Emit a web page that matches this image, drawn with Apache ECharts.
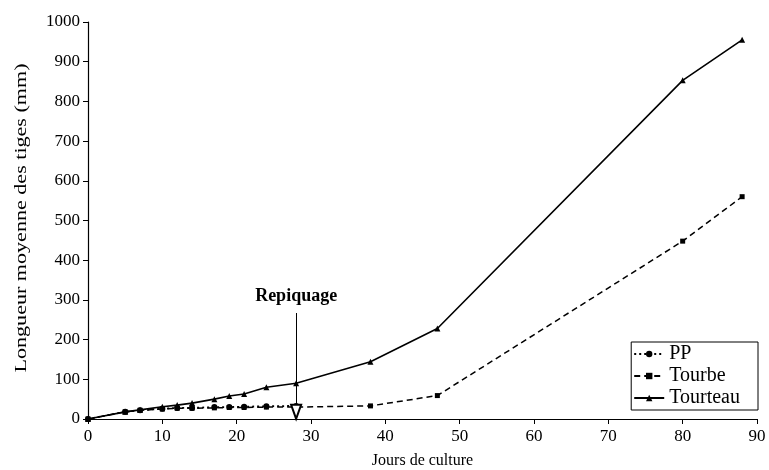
<!DOCTYPE html>
<html>
<head>
<meta charset="utf-8">
<script src="https://cdn.jsdelivr.net/npm/echarts@6/dist/echarts.min.js"></script>
<style>html,body{margin:0;padding:0;background:#fff}#c{width:769px;height:470px}</style>
</head>
<body>
<div id="c"></div>
<script>
var days = [0, 5, 7, 10, 12, 14, 17, 19, 21, 24, 28, 38, 47, 80, 88];
var ppDays = [0, 5, 7, 10, 12, 14, 17, 19, 21, 24, 28];
var ppValues = [0, 18, 22, 26, 28, 28, 30, 30, 31, 32, 33];
var tourbeValues = [0, 18, 22, 25, 27, 27, 28, 29, 29, 30, 30, 33, 59, 448, 560];
var tourteauValues = [0, 18, 23, 31, 35, 40, 50, 58, 63, 80, 90, 144, 228, 853, 955];
var seriesNames = ['PP', 'Tourbe', 'Tourteau'];
var xTicks = [0, 10, 20, 30, 40, 50, 60, 70, 80, 90];
var yTicks = [0, 100, 200, 300, 400, 500, 600, 700, 800, 900, 1000];
var repiquageDay = 28;
var repiquageTop = 267;
var repiquageBottom = 18;
var repiquageLabel = 'Repiquage';
var xTitle = 'Jours de culture';
var yTitle = 'Longueur moyenne des tiges (mm)';

function pairs(xs, ys) { return xs.map(function (x, i) { return [x, ys[i]]; }); }

var FONT = '"Liberation Serif", "DejaVu Serif", serif';
var chart = echarts.init(document.getElementById('c'), null, { renderer: 'canvas' });
chart.setOption({
  animation: false,
  backgroundColor: '#fff',
  textStyle: { fontFamily: FONT, color: '#000' },
  grid: { left: 88, right: 12, top: 22, bottom: 51, containLabel: false, outerBoundsMode: 'none' },
  graphic: [{
    type: 'text', x: 22, y: 218, rotation: Math.PI / 2, scaleX: 1.38,
    style: { text: yTitle, fontFamily: FONT, fontSize: 16, fill: '#000', align: 'center', verticalAlign: 'middle' }
  }],
  legend: {
    orient: 'vertical',
    right: 11, top: 342,
    backgroundColor: '#fff',
    borderColor: '#000', borderWidth: 1,
    padding: [2, 18, 2, 2],
    itemGap: 2, itemWidth: 30, itemHeight: 8,
    textStyle: { fontFamily: FONT, fontSize: 20, color: '#000', lineHeight: 19 },
    data: seriesNames
  },
  xAxis: {
    type: 'value', min: xTicks[0], max: xTicks[xTicks.length - 1], interval: 10,
    name: xTitle, nameLocation: 'middle', nameGap: 34,
    nameTextStyle: { fontFamily: FONT, fontSize: 16, color: '#000' },
    axisLine: { lineStyle: { color: '#000', width: 1.2 } },
    axisTick: { show: true, length: 5, lineStyle: { color: '#000' } },
    axisLabel: { fontFamily: FONT, fontSize: 17, color: '#000', margin: 9 },
    splitLine: { show: false }
  },
  yAxis: {
    type: 'value', min: yTicks[0], max: yTicks[yTicks.length - 1], interval: 100,
    axisLine: { show: true, lineStyle: { color: '#000', width: 1.2 } },
    axisTick: { show: true, length: 5, lineStyle: { color: '#000' } },
    axisLabel: { fontFamily: FONT, fontSize: 17, color: '#000', margin: 8, formatter: function (v) { return String(v); } },
    splitLine: { show: false }
  },
  series: [
    {
      name: seriesNames[0], type: 'line', data: pairs(ppDays, ppValues),
      symbol: 'circle', symbolSize: 6, showSymbol: true,
      itemStyle: { color: '#000' },
      lineStyle: { color: '#000', width: 1.8, type: [2, 3] }, z: 3
    },
    {
      name: seriesNames[1], type: 'line', data: pairs(days, tourbeValues),
      symbol: 'rect', symbolSize: 5, showSymbol: true,
      itemStyle: { color: '#000' },
      lineStyle: { color: '#000', width: 1.5, type: [6, 4] }, z: 3,
      markLine: {
        silent: true,
        symbol: ['none', 'emptyTriangle'],
        symbolSize: [10, 14],
        lineStyle: { color: '#000', width: 1, type: 'solid' },
        label: {
          show: true, position: 'start', distance: 8,
          formatter: repiquageLabel,
          fontFamily: FONT, fontSize: 18, fontWeight: 'bold', color: '#000'
        },
        data: [[{ coord: [repiquageDay, repiquageTop] }, { coord: [repiquageDay, repiquageBottom] }]]
      }
    },
    {
      name: seriesNames[2], type: 'line', data: pairs(days, tourteauValues),
      symbol: 'triangle', symbolSize: 6, showSymbol: true,
      itemStyle: { color: '#000' },
      lineStyle: { color: '#000', width: 1.6, type: 'solid' }, z: 4
    }
  ]
});
</script>
</body>
</html>
